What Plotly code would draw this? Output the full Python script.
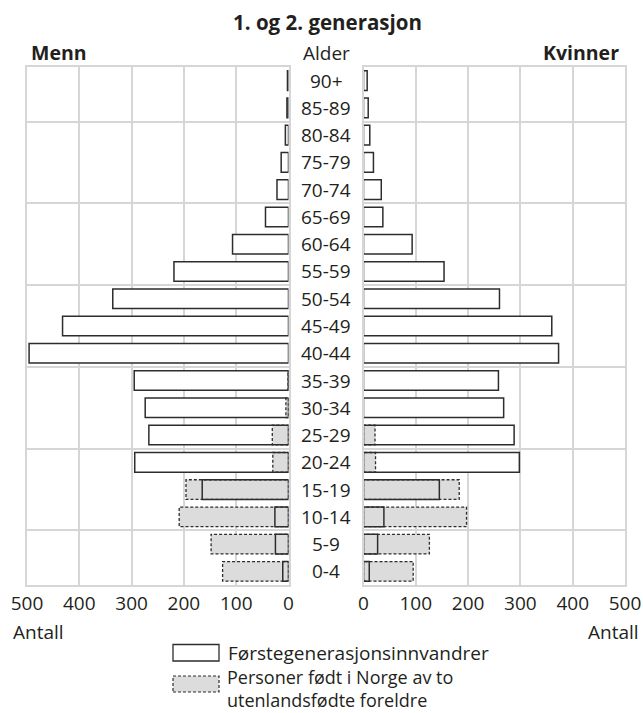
import plotly.graph_objects as go

W, H = 643, 713

# ---- data (bottom -> top) ----
age_groups = ["0-4", "5-9", "10-14", "15-19", "20-24", "25-29", "30-34", "35-39",
              "40-44", "45-49", "50-54", "55-59", "60-64", "65-69", "70-74",
              "75-79", "80-84", "85-89", "90+"]
men_first_gen = [11, 25, 26, 165, 294, 267, 274, 295, 496, 432, 336, 219, 107, 44, 22, 14, 6, 3, 2]
men_second_gen = [126, 148, 209, 196, 30, 31, 5, 1, 0, 0, 0, 0, 0, 0, 0, 0, 0, 0, 0]
women_first_gen = [11, 27, 39, 145, 298, 288, 268, 258, 373, 360, 260, 154, 93, 37, 34, 19, 12, 9, 7]
women_second_gen = [95, 126, 197, 183, 23, 22, 0, 0, 0, 0, 0, 0, 0, 0, 0, 0, 0, 0, 0]
x_ticks = [0, 100, 200, 300, 400, 500]

# ---- style ----
FONT = "Open Sans"
TXT = "#231f20"
GRID = "#d6d6d6"
EDGE = "#2d2d2d"
GREY = "#dcdcdc"
BAR_W = 0.72
FS = 19


def px(x):
    return x / W


def py(y):
    return 1 - y / H


ypos = list(range(len(age_groups)))

fig = go.Figure()


def add_side(first, second, xa, ya):
    # white fill of first generation
    fig.add_trace(go.Bar(x=first, y=ypos, orientation="h", width=BAR_W,
                         marker=dict(color="white", line=dict(width=0)),
                         xaxis=xa, yaxis=ya, showlegend=False, hoverinfo="skip"))
    # grey fill of second generation
    fig.add_trace(go.Bar(x=second, y=ypos, orientation="h", width=BAR_W,
                         marker=dict(color=GREY, line=dict(width=0)),
                         xaxis=xa, yaxis=ya, showlegend=False, hoverinfo="skip"))
    # solid outline of first generation
    fig.add_trace(go.Bar(x=first, y=ypos, orientation="h", width=BAR_W,
                         marker=dict(color="rgba(0,0,0,0)", line=dict(width=1.5, color=EDGE)),
                         xaxis=xa, yaxis=ya, showlegend=False, hoverinfo="skip"))
    # dashed outline of second generation
    xs, ys = [], []
    h = BAR_W / 2
    for yi, v in zip(ypos, second):
        if v <= 0:
            continue
        xs += [0, v, v, 0, 0, None]
        ys += [yi - h, yi - h, yi + h, yi + h, yi - h, None]
    fig.add_trace(go.Scatter(x=xs, y=ys, mode="lines",
                             line=dict(color=EDGE, width=1.3, dash="3px,2px"),
                             xaxis=xa, yaxis=ya, showlegend=False, hoverinfo="skip"))


add_side(men_first_gen, men_second_gen, "x", "y")
add_side(women_first_gen, women_second_gen, "x2", "y2")

y_dom = [py(585), py(67)]
axis_common = dict(showgrid=True, gridcolor=GRID, gridwidth=2, showline=True,
                   linecolor=GRID, linewidth=2, mirror=True, zeroline=False,
                   ticks="", tickfont=dict(family=FONT, size=FS, color=TXT),
                   ticklabeloverflow="allow", automargin=False,
                   tickvals=x_ticks, ticktext=[str(t) for t in x_ticks])
yaxis_common = dict(range=[-0.5, len(age_groups) - 0.5], tickvals=[1.5, 4.5, 7.5, 10.5, 13.5, 16.5],
                    showticklabels=False, showgrid=True, gridcolor=GRID, gridwidth=2,
                    showline=True, linecolor=GRID, linewidth=2, mirror=True,
                    zeroline=False, ticks="", automargin=False, domain=y_dom)

fig.update_layout(
    width=W, height=H,
    margin=dict(l=0, r=0, t=0, b=0, pad=0, autoexpand=False),
    paper_bgcolor="white", plot_bgcolor="white",
    barmode="overlay",
    font=dict(family=FONT, color=TXT),
    xaxis=dict(domain=[px(27), px(288.5)], range=[500, 0], anchor="y", **axis_common),
    yaxis=dict(anchor="x", **yaxis_common),
    xaxis2=dict(domain=[px(363.5), px(625)], range=[0, 500], anchor="y2", **axis_common),
    yaxis2=dict(anchor="x2", **yaxis_common),
)

# age labels in the middle
for yi, lab in zip(ypos, age_groups):
    fig.add_annotation(x=px(326), y=yi, xref="paper", yref="y", text=lab, showarrow=False,
                       xanchor="center", yanchor="middle", font=dict(family=FONT, size=FS, color=TXT))

texts = [
    ("<b>1. og 2. generasjon</b>", 327, 22, "center", 20.5),
    ("<b>Menn</b>", 29, 52, "left", 19.5),
    ("Alder", 326, 53, "center", FS),
    ("<b>Kvinner</b>", 621, 52, "right", 19.5),
    ("Antall", 11, 632, "left", FS),
    ("Antall", 641, 632, "right", FS),
    ("Førstegenerasjonsinnvandrer", 226, 653, "left", FS),
]
for t, x, y, anc, size in texts:
    fig.add_annotation(x=px(x), y=py(y), xref="paper", yref="paper", text=t, showarrow=False,
                       xanchor=anc, yanchor="middle", font=dict(family=FONT, size=size, color=TXT))

# two-line legend label
fig.add_annotation(x=px(226), y=py(712.5), xref="paper", yref="paper",
                   text="Personer født i Norge av to<br>utenlandsfødte foreldre",
                   showarrow=False, xanchor="left", yanchor="bottom", align="left", borderpad=0,
                   font=dict(family=FONT, size=18, color=TXT))

# legend swatches
fig.add_shape(type="rect", xref="paper", yref="paper", x0=px(173), x1=px(219), y0=py(661), y1=py(644.5),
              fillcolor="white", line=dict(color=EDGE, width=1.3))
fig.add_shape(type="rect", xref="paper", yref="paper", x0=px(173), x1=px(219), y0=py(692), y1=py(676),
              fillcolor=GREY, line=dict(color=EDGE, width=1.2, dash="3px,2px"))

fig.write_html("out.html", config={"displayModeBar": False},
               post_script="document.body.style.margin='0';document.body.style.overflow='hidden';")
